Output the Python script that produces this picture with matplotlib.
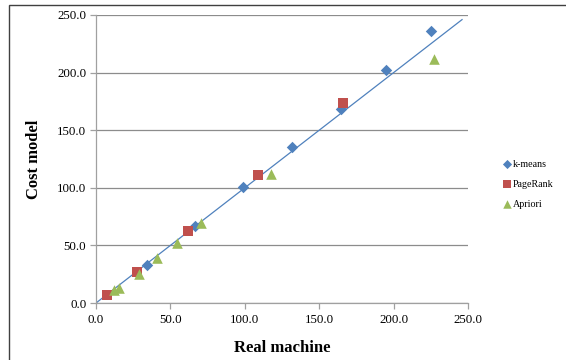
import matplotlib
matplotlib.use("Agg")
import matplotlib.pyplot as plt
from matplotlib.patches import Rectangle

kmeans_x = [34.3, 66.5, 98.6, 131.9, 164.7, 195.0, 224.9]
kmeans_y = [33.0, 66.8, 101.0, 135.2, 168.4, 202.3, 235.8]
pagerank_x = [7.7, 27.7, 61.6, 108.6, 165.7]
pagerank_y = [6.9, 27.2, 62.5, 111.1, 173.4]
apriori_x = [12.2, 15.5, 28.8, 41.0, 54.7, 70.9, 117.4, 227.1]
apriori_y = [11.3, 12.7, 25.5, 38.8, 51.8, 69.2, 112.0, 211.5]
trend_x = [0, 246]
trend_y = [0, 246]
ticks = [0, 50, 100, 150, 200, 250]

plt.rcParams['font.family'] = ['Liberation Serif', 'DejaVu Serif']

fig = plt.figure(figsize=(5.66, 3.6), dpi=100)
ax = fig.add_axes([96/566, 1-303/360, (468-96)/566, (303-15)/360])

# chart border
fig.patches.append(Rectangle((9/566, -0.1), 1.2, 1-5/360+0.1, transform=fig.transFigure,
                             fill=False, edgecolor='#404040', linewidth=1.0))

ax.plot(trend_x, trend_y, color='#4F81BD', linewidth=0.9, zorder=2)
ax.scatter(kmeans_x, kmeans_y, marker='D', s=34, color='#4F81BD', label='k-means', zorder=3, linewidths=0)
ax.scatter(pagerank_x, pagerank_y, marker='s', s=62, color='#C0504D', label='PageRank', zorder=3, linewidths=0)
ax.scatter(apriori_x, apriori_y, marker='^', s=58, color='#9BBB59', label='Apriori', zorder=3, linewidths=0)

ax.set_xlim(0, 250)
ax.set_ylim(0, 250)
ax.set_xticks(ticks)
ax.set_yticks(ticks)
ax.set_xticklabels([f"{t:.1f}" for t in ticks], fontsize=9.3)
ax.set_yticklabels([f"{t:.1f}" for t in ticks], fontsize=9.3)
ax.grid(axis='y', color='#8c8c8c', linewidth=0.9)
ax.set_axisbelow(True)
for s in ['top', 'right']:
    ax.spines[s].set_visible(False)
for s in ['left', 'bottom']:
    ax.spines[s].set_color('#a0a0a0')
    ax.spines[s].set_linewidth(0.9)
ax.tick_params(axis='x', length=4, color='#a0a0a0', width=0.9, pad=4)
ax.tick_params(axis='y', length=4, color='#a0a0a0', width=0.9, pad=3)

ax.set_xlabel('Real machine', fontsize=12, fontweight='bold', labelpad=10)
ax.set_ylabel('Cost model', fontsize=12, fontweight='bold', labelpad=11)

fig.legend(loc='upper left', bbox_to_anchor=(497/566, 1-156/360), frameon=False,
           fontsize=7.2, handletextpad=0.0, borderaxespad=0, labelspacing=1.1,
           handlelength=1.2, markerscale=0.8)

fig.savefig('out.png', dpi=100)
